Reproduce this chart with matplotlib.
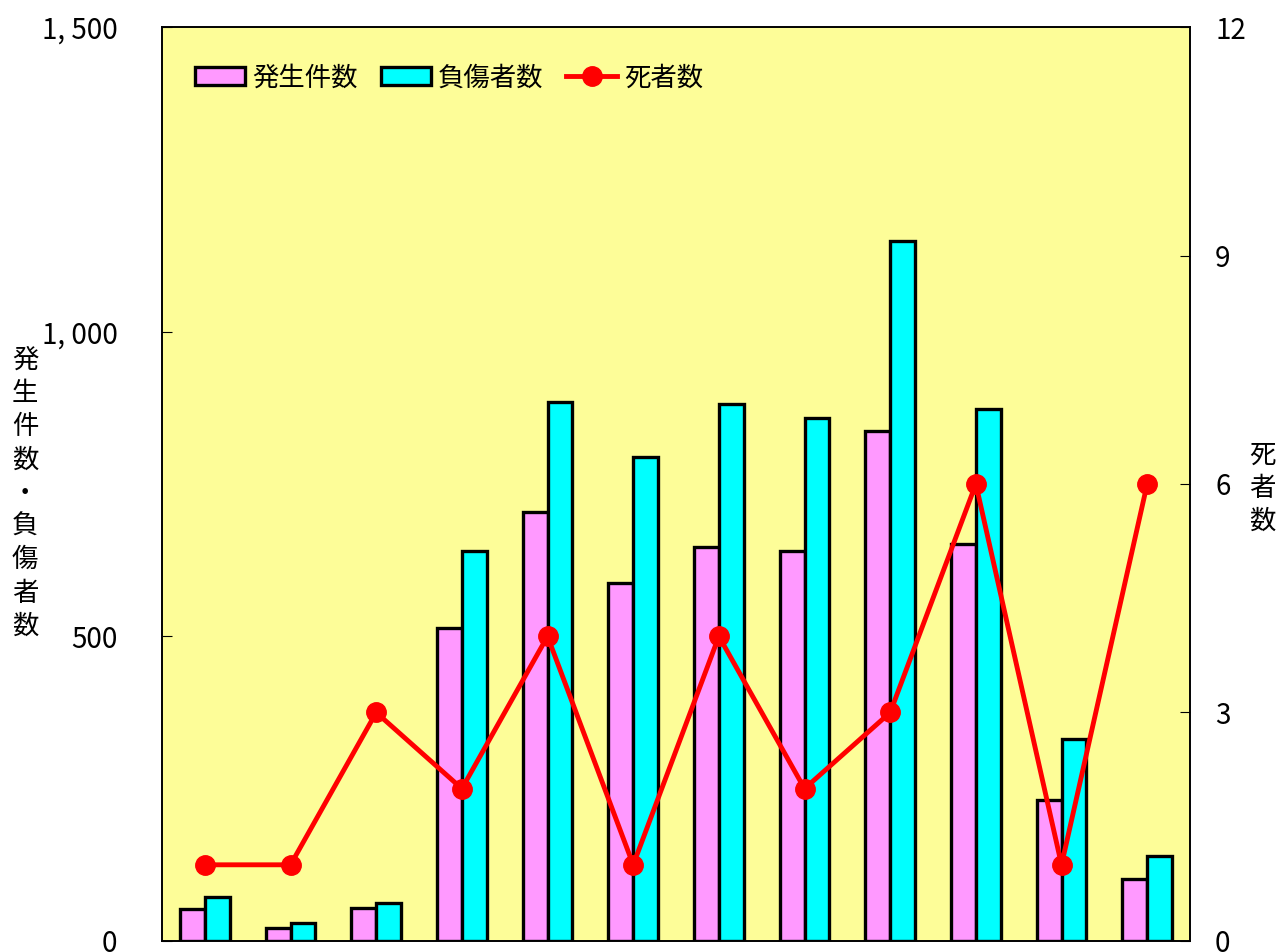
import numpy as np
import matplotlib.pyplot as plt

plt.rcParams['font.family'] = ['Noto Sans CJK JP', 'DejaVu Sans']

# データ（12か月分）
months = list(range(1, 13))
hassei = [52, 21, 54, 514, 704, 588, 647, 640, 837, 652, 231, 102]
fusho = [72, 30, 62, 640, 885, 794, 881, 858, 1149, 873, 332, 140]
shisha = [1, 1, 3, 2, 4, 1, 4, 2, 3, 6, 1, 6]

fig, ax = plt.subplots(figsize=(12.8, 9.52), dpi=100)
fig.subplots_adjust(left=0.1266, right=0.9297, bottom=0.0116, top=0.9716)
ax.set_facecolor('#fdfd98')

x = np.arange(len(months)) + 0.5
w = 0.29
b1 = ax.bar(x - w / 2, hassei, w, color='#ff99ff', edgecolor='black', linewidth=2.4, label='発生件数')
b2 = ax.bar(x + w / 2, fusho, w, color='#00ffff', edgecolor='black', linewidth=2.4, label='負傷者数')
ax.set_xlim(0, 12)
ax.set_ylim(0, 1500)
ax.set_xticks([])
ax.set_yticks([0, 500, 1000, 1500])
ax.set_yticklabels(['0', '500', '1, 000', '1, 500'])
ax.tick_params(axis='y', direction='in', length=7, labelsize=20, pad=32)

ax2 = ax.twinx()
l1, = ax2.plot(x, shisha, color='#ff0000', linewidth=3.5, marker='o', markersize=14, label='死者数')
ax2.set_ylim(0, 12)
ax2.set_yticks([0, 3, 6, 9, 12])
ax2.tick_params(axis='y', direction='in', length=7, labelsize=20, pad=18)

for a in (ax, ax2):
    for s in a.spines.values():
        s.set_linewidth(1.2)

ax.legend(handles=[b1, b2, l1], loc='upper left', ncol=3, frameon=False, fontsize=19,
          bbox_to_anchor=(0.009, 0.985), handlelength=1.9, handletextpad=0.27, columnspacing=0.87)

fig.text(0.0195, 0.482, '発\n生\n件\n数\n・\n負\n傷\n者\n数', fontsize=19, ha='center', va='center', linespacing=1.3)
fig.text(0.986, 0.487, '死\n者\n数', fontsize=19, ha='center', va='center', linespacing=1.3)

fig.savefig('out.png', dpi=100)
